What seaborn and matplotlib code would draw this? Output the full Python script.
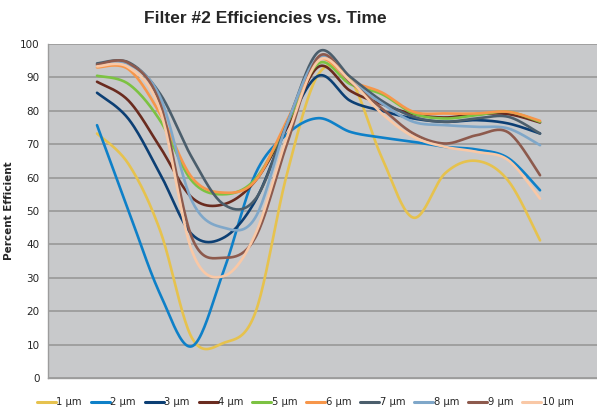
import numpy as np
import pandas as pd
import matplotlib
matplotlib.use('Agg')
import matplotlib.pyplot as plt
import seaborn as sns

# data (percent efficient at each sampling time)
time = [0, 1, 2, 3, 4, 5, 6, 7, 8, 9, 10, 11, 12, 13, 14]
eff_1 = [73.2, 64.0, 44.0, 12.0, 10.5, 19.5, 61.0, 91.0, 89.5, 66.0, 48.0, 61.3, 65.0, 59.0, 41.2]
eff_2 = [75.7, 50.0, 25.0, 9.5, 32.0, 61.0, 73.0, 77.8, 73.7, 72.0, 70.7, 69.2, 68.4, 65.8, 56.2]
eff_3 = [85.4, 77.5, 61.0, 43.0, 42.0, 53.0, 75.0, 90.5, 83.0, 80.0, 77.7, 76.7, 77.2, 76.2, 73.2]
eff_4 = [88.7, 83.0, 69.0, 54.0, 52.0, 59.0, 75.0, 93.2, 86.0, 82.0, 79.0, 78.0, 79.0, 79.0, 76.5]
eff_5 = [90.5, 88.0, 77.0, 59.0, 55.0, 59.5, 76.0, 94.2, 88.0, 85.0, 79.2, 77.7, 78.7, 79.7, 76.7]
eff_6 = [93.0, 92.4, 79.0, 60.0, 55.5, 59.0, 77.0, 95.2, 89.0, 85.5, 79.7, 79.2, 79.2, 79.7, 77.0]
eff_7 = [94.2, 94.5, 85.0, 66.0, 52.0, 53.5, 76.0, 97.7, 90.2, 83.0, 78.2, 76.7, 77.7, 78.2, 73.2]
eff_8 = [93.7, 94.0, 84.0, 53.0, 45.0, 48.0, 76.0, 96.0, 89.0, 82.2, 76.7, 75.7, 75.2, 74.7, 69.7]
eff_9 = [93.8, 94.3, 82.0, 42.0, 36.0, 42.0, 70.0, 96.2, 88.7, 80.7, 73.2, 70.2, 72.7, 73.5, 60.7]
eff_10 = [93.3, 93.0, 80.0, 38.0, 30.5, 43.0, 72.0, 95.0, 89.0, 79.2, 72.2, 69.2, 67.7, 65.2, 53.7]

labels = ['1 µm', '2 µm', '3 µm', '4 µm', '5 µm', '6 µm', '7 µm', '8 µm', '9 µm', '10 µm']
series = [eff_1, eff_2, eff_3, eff_4, eff_5, eff_6, eff_7, eff_8, eff_9, eff_10]
colors = ['#E6C24E', '#0E80C8', '#0C3F74', '#6A2B1F', '#7CC242', '#F7964A',
          '#4B5E6C', '#7FA7C9', '#8D5A4D', '#F9C8A6']


def smooth(x, y, n=24):
    # excel style "smoothed line": cubic bezier through every point
    x = np.asarray(x, float)
    y = np.asarray(y, float)
    px = np.concatenate([[x[0]], x, [x[-1]]])
    py = np.concatenate([[y[0]], y, [y[-1]]])
    t = np.linspace(0, 1, n)[:-1]
    xs, ys = [], []
    for i in range(1, len(px) - 2):
        c1x = px[i] + (px[i + 1] - px[i - 1]) / 6
        c1y = py[i] + (py[i + 1] - py[i - 1]) / 6
        c2x = px[i + 1] - (px[i + 2] - px[i]) / 6
        c2y = py[i + 1] - (py[i + 2] - py[i]) / 6
        a, b, c, d = (1 - t) ** 3, 3 * (1 - t) ** 2 * t, 3 * (1 - t) * t ** 2, t ** 3
        xs.append(a * px[i] + b * c1x + c * c2x + d * px[i + 1])
        ys.append(a * py[i] + b * c1y + c * c2y + d * py[i + 1])
    xs.append([x[-1]])
    ys.append([y[-1]])
    return np.concatenate(xs), np.concatenate(ys)


frames = []
for lab, vals in zip(labels, series):
    sx, sy = smooth(time, vals)
    frames.append(pd.DataFrame({'time': sx, 'efficiency': sy, 'size': lab}))
df = pd.concat(frames, ignore_index=True)

sns.set_style('white')
plt.rcParams['font.family'] = ['DejaVu Sans']

fig = plt.figure(figsize=(5.97, 4.09), dpi=100)
ax = fig.add_axes([0.0804, 0.0758, 0.9196, 0.8166])
ax.set_facecolor('#C8C9CB')

sns.lineplot(data=df, x='time', y='efficiency', hue='size', palette=colors,
             hue_order=labels, sort=False, estimator=None, linewidth=1.9,
             legend=False, ax=ax)

ax.set_ylim(0, 100)
ax.set_yticks(range(0, 101, 10))
ax.set_xlim(-1.549, 15.80)
ax.set_xticks(np.arange(-1.549, 15.8, 1.944))
ax.set_xticklabels([])
ax.grid(True, axis='y', color='#9C9C9C', linewidth=1.3)
ax.set_axisbelow(True)
for side in ['top', 'right']:
    ax.spines[side].set_visible(False)
for side in ['left', 'bottom']:
    ax.spines[side].set_color('#9C9C9C')
    ax.spines[side].set_linewidth(1.0)
ax.tick_params(axis='x', length=4, color='#9C9C9C', direction='out')
ax.tick_params(axis='y', length=3, color='#9C9C9C', labelsize=7.5, pad=3)
ax.set_xlabel('')
ax.set_ylabel('Percent Efficient', fontsize=7.5, fontweight='bold')
ax.yaxis.set_label_coords(-0.062, 0.5)

fig.suptitle('Filter #2 Efficiencies vs. Time', fontsize=12.5, fontweight='bold',
             family=['Liberation Sans Narrow', 'Liberation Sans'], x=0.445, y=0.972)

handles = [plt.Line2D([], [], color=c, linewidth=2.2) for c in colors]
fig.legend(handles, labels, loc='lower center', ncol=10, frameon=False,
           bbox_to_anchor=(0.511, -0.018), fontsize=7.2, handlelength=1.9,
           handletextpad=0.05, columnspacing=0.9)

plt.savefig('out.png', dpi=100)
